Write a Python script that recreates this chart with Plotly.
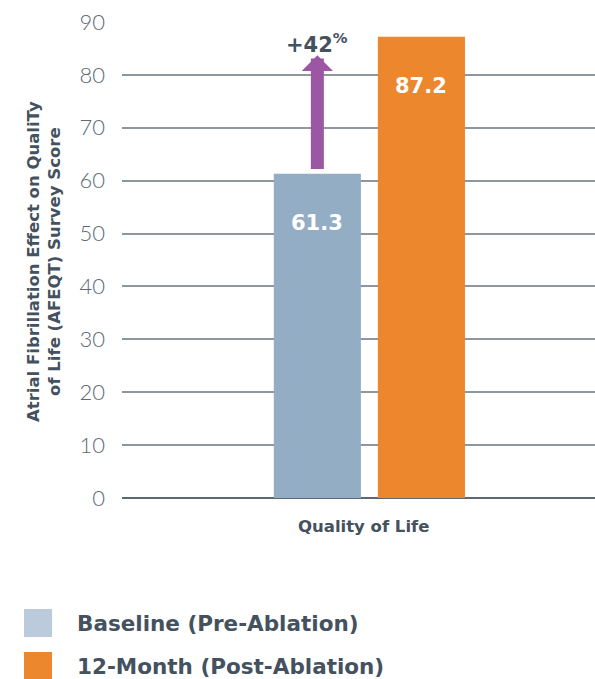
import plotly.graph_objects as go

# Data
category = ["Quality of Life"]
series_names = ["Baseline (Pre-Ablation)", "12-Month (Post-Ablation)"]
scores = [61.3, 87.2]
bar_colors = ["#93adc4", "#ed872e"]
legend_colors = ["#bccbdc", "#ed872e"]
change_label = "+42<sup>%</sup>"
y_ticks = [0, 10, 20, 30, 40, 50, 60, 70, 80, 90]

W, H = 595, 679
M_L, M_R, M_T, M_B = 122, 0, 22, 181
PW, PH = W - M_L - M_R, H - M_T - M_B

TEXT = "#44515e"
BOLD = "DejaVu Sans"


def px_x(px):
    return (px - M_L) / PW


def px_y(py):
    return (H - M_B - py) / PH


fig = go.Figure()
for name, val, col in zip(series_names, scores, bar_colors):
    fig.add_trace(go.Bar(
        x=category, y=[val], name=name, marker=dict(color=col, line=dict(width=0)),
        showlegend=False, hoverinfo="skip",
    ))

# value labels inside the tops of the bars
slot = 0.22
offsets = [-slot / 2, slot / 2]
for off, val in zip(offsets, scores):
    fig.add_annotation(
        x=off, y=val, xref="x", yref="y", text=f"<b>{val}</b>", showarrow=False,
        yanchor="middle", yshift=-49, font=dict(family=BOLD, size=21, color="white"),
    )

# increase arrow rising from the baseline bar
fig.add_annotation(
    x=offsets[0], y=scores[1] - 3.5, ax=offsets[0], ay=scores[0] + 0.6,
    xref="x", yref="y", axref="x", ayref="y", text="", showarrow=True,
    arrowhead=1, arrowsize=0.4, arrowwidth=13, arrowcolor="#9b56a4",
)
fig.add_annotation(
    x=offsets[0], y=px_y(43), xref="x", yref="paper", text=f"<b>{change_label}</b>",
    showarrow=False, yanchor="middle", font=dict(family=BOLD, size=21, color=TEXT),
)

# y-axis title
fig.add_annotation(
    x=px_x(44), y=px_y(262), xref="paper", yref="paper", textangle=-90,
    xanchor="center", yanchor="middle",
    text="<b>Atrial Fibrillation Effect on QualiTy<br>of Life (AFEQT) Survey Score</b>",
    showarrow=False, font=dict(family=BOLD, size=16.5, color=TEXT),
)
# x-axis title
fig.add_annotation(
    x=px_x(363), y=px_y(526), xref="paper", yref="paper", text="<b>Quality of Life</b>",
    xanchor="center", yanchor="middle",
    showarrow=False, font=dict(family=BOLD, size=16.5, color=TEXT),
)

# legend
for i, (name, col) in enumerate(zip(series_names, legend_colors)):
    cy = 623 + i * 43
    fig.add_shape(type="rect", xref="paper", yref="paper",
                  x0=px_x(24), x1=px_x(52), y0=px_y(cy - 14), y1=px_y(cy + 14),
                  fillcolor=col, line=dict(width=0))
    fig.add_annotation(x=px_x(75), y=px_y(cy), xref="paper", yref="paper",
                       xanchor="left", yanchor="middle", text=f"<b>{name}</b>",
                       showarrow=False, font=dict(family=BOLD, size=21.5, color=TEXT))

fig.update_layout(
    width=W, height=H, margin=dict(l=M_L, r=M_R, t=M_T, b=M_B, autoexpand=False),
    paper_bgcolor="white", plot_bgcolor="white",
    barmode="group", bargap=0.56, bargroupgap=0.163,
)
fig.update_xaxes(range=[-0.523, 0.477], showticklabels=False, showgrid=False,
                 zeroline=False, showline=False, fixedrange=True)
fig.update_yaxes(range=[0, 90], tickvals=y_ticks, showgrid=True, gridcolor="#8f979e",
                 gridwidth=1.5, zeroline=True, zerolinecolor="#5c6873", zerolinewidth=2,
                 ticklabelstandoff=16, showline=False,
                 tickfont=dict(family="Lato", size=22, color="#5d6a76", weight=300))

fig.write_html("out.html")
